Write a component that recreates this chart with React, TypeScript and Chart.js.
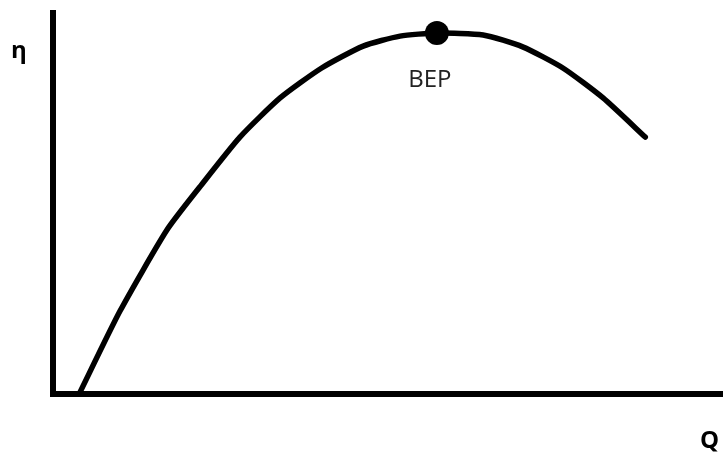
import React, { useEffect, useRef } from "react";
import { Chart, registerables } from "chart.js";

Chart.register(...registerables);

const flowQ = [3.9, 10.0, 17.0, 21.9, 27.9, 33.9, 40.1, 46.3, 51.8, 57.3, 64.2, 70.1, 76.1, 82.1, 88.4];
const efficiency = [0, 21.6, 42.7, 53.9, 66.9, 77.1, 84.9, 90.6, 93.2, 94.0, 93.5, 90.4, 84.9, 77.1, 66.9];
const bepQ = [57.3];
const bepEta = [94.0];
const bepLabel = "BEP";
const xLabel = "Q";
const yLabel = "η";

const overlay = {
  id: "overlay",
  afterDatasetsDraw(chart: any) {
    const { ctx, chartArea } = chart;
    const { left, right, top, bottom } = chartArea;
    ctx.save();
    ctx.strokeStyle = "#000";
    ctx.lineWidth = 6;
    ctx.lineCap = "butt";
    ctx.beginPath();
    ctx.moveTo(left, top);
    ctx.lineTo(left, bottom);
    ctx.lineTo(right, bottom);
    ctx.stroke();

    const xs = chart.scales.x;
    const ys = chart.scales.y;
    const bx = xs.getPixelForValue(bepQ[0]);
    const by = ys.getPixelForValue(bepEta[0]);
    ctx.fillStyle = "#222";
    ctx.font = "24px 'Open Sans'";
    ctx.textAlign = "center";
    ctx.textBaseline = "middle";
    ctx.fillText(bepLabel, bx - 7, by + 47);

    ctx.fillStyle = "#000";
    ctx.font = "bold 24px 'Open Sans'";
    ctx.textAlign = "left";
    ctx.fillText(yLabel, 11, 51);
    ctx.fillText(xLabel, 700, 441);
    ctx.restore();
  },
};

export default function App() {
  const ref = useRef<HTMLCanvasElement>(null);
  useEffect(() => {
    let chart: any = null;
    let cancelled = false;
    const make = () => {
      if (cancelled || !ref.current) return;
      chart = new Chart(ref.current, {
        type: "scatter",
        data: {
          datasets: [
            {
              data: flowQ.map((q, i) => ({ x: q, y: efficiency[i] })),
              showLine: true,
              borderColor: "#000",
              borderWidth: 5.5,
              pointRadius: 0,
              tension: 0.2,
              borderCapStyle: "round",
              borderJoinStyle: "round",
            },
            {
              data: bepQ.map((q, i) => ({ x: q, y: bepEta[i] })),
              pointRadius: 12,
              pointBackgroundColor: "#000",
              pointBorderWidth: 0,
            },
          ],
        },
        options: {
          animation: false,
          responsive: false,
          layout: { autoPadding: false, padding: { left: 53, right: 0, top: 10, bottom: 65 } },
          plugins: { legend: { display: false }, tooltip: { enabled: false } },
          scales: {
            x: { type: "linear", min: 0, max: 100, display: false },
            y: { type: "linear", min: 0, max: 100, display: false },
          },
        },
        plugins: [overlay],
      });
    };
    Promise.all([
      document.fonts.load("24px 'Open Sans'", "BEP"),
      document.fonts.load("bold 24px 'Open Sans'", "Qη"),
    ])
      .catch(() => null)
      .then(make);
    return () => {
      cancelled = true;
      if (chart) chart.destroy();
    };
  }, []);
  return (
    <div style={{ position: "fixed", left: 0, top: 0, width: 723, height: 459, background: "#fff" }}>
      <canvas ref={ref} width={723} height={459} style={{ width: 723, height: 459 }} />
    </div>
  );
}
